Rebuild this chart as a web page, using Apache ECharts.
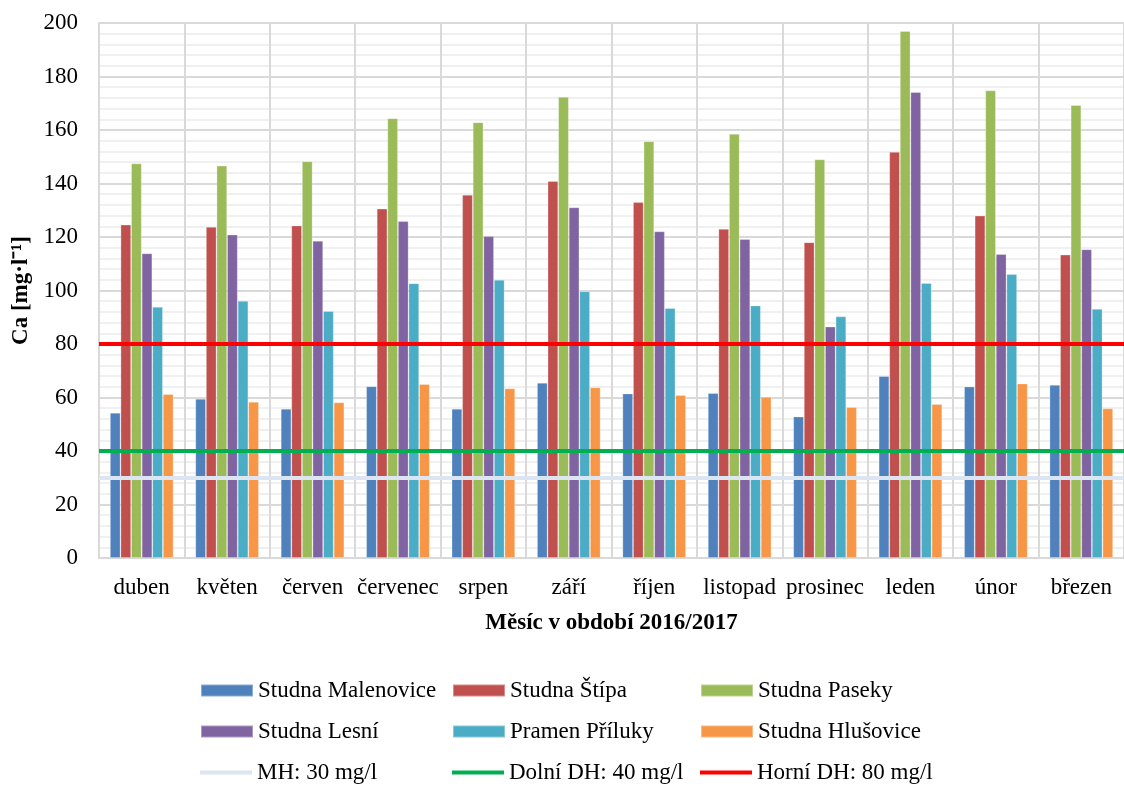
<!DOCTYPE html>
<html>
<head>
<meta charset="utf-8">
<script src="https://cdn.jsdelivr.net/npm/echarts@6/dist/echarts.min.js"></script>
<style>
  html, body { margin: 0; padding: 0; background: #fff; }
  #chart { width: 1124px; height: 787px; }
</style>
</head>
<body>
<div id="chart"></div>
<script>
// Months of the 2016/2017 monitoring period
const months = ['duben', 'květen', 'červen', 'červenec', 'srpen', 'září', 'říjen', 'listopad', 'prosinec', 'leden', 'únor', 'březen'];

// Calcium concentration [mg/l] per source
const malenovice = [54.3, 59.5, 55.8, 64.2, 55.8, 65.5, 61.5, 61.6, 52.9, 68.0, 64.1, 64.7];
const stipa      = [124.6, 123.8, 124.3, 130.6, 135.8, 140.9, 133.0, 123.0, 118.0, 151.8, 128.0, 113.4];
const paseky     = [147.5, 146.7, 148.3, 164.4, 162.9, 172.4, 155.8, 158.6, 149.0, 197.0, 174.8, 169.3];
const lesni      = [113.9, 120.9, 118.6, 125.9, 120.3, 131.1, 122.1, 119.2, 86.5, 174.2, 113.6, 115.4];
const priluky    = [93.9, 96.1, 92.3, 102.7, 104.0, 99.7, 93.4, 94.4, 90.3, 102.8, 106.1, 93.1];
const hlusovice  = [61.3, 58.4, 58.2, 65.0, 63.4, 63.8, 60.9, 60.2, 56.4, 57.5, 65.2, 55.9];

// Limit values [mg/l]
const limitMH = 30;
const limitDolni = 40;
const limitHorni = 80;

// Value axis ticks
const yTicks = { min: 0, max: 200, interval: 20 };

const FONT = "'Liberation Serif', 'Times New Roman', serif";
const FS = 23;

const barSeries = [
  ['Studna Malenovice', malenovice, '#4f81bd'],
  ['Studna Štípa', stipa, '#c0504d'],
  ['Studna Paseky', paseky, '#9bbb59'],
  ['Studna Lesní', lesni, '#8064a2'],
  ['Pramen Příluky', priluky, '#4bacc6'],
  ['Studna Hlušovice', hlusovice, '#f79646']
].map(([name, data, color]) => ({
  name, type: 'bar', data,
  barGap: '0%', barCategoryGap: '25.6%',
  itemStyle: { color, borderColor: 'rgba(255,255,255,0.35)', borderWidth: 0.8 },
  emphasis: { disabled: true },
  animation: false
}));

const limitSeries = [
  ['MH: 30 mg/l', limitMH, '#dce6f2'],
  ['Dolní DH: 40 mg/l', limitDolni, '#00b050'],
  ['Horní DH: 80 mg/l', limitHorni, '#ff0000']
].map(([name, value, color]) => ({
  name, type: 'line', data: [], symbol: 'none',
  lineStyle: { color, width: 4 },
  itemStyle: { color },
  z: 5,
  markLine: {
    silent: true, symbol: 'none', animation: false,
    label: { show: false },
    lineStyle: { color, width: 4, type: 'solid' },
    data: [{ yAxis: value }]
  },
  animation: false
}));

// Legend laid out as a 3 x 3 table: one legend box per cell
const colX = [200, 452, 700];
const rowY = [690, 731, 772];
const legendRows = [
  ['Studna Malenovice', 'Studna Štípa', 'Studna Paseky'],
  ['Studna Lesní', 'Pramen Příluky', 'Studna Hlušovice'],
  ['MH: 30 mg/l', 'Dolní DH: 40 mg/l', 'Horní DH: 80 mg/l']
];
const legends = [];
legendRows.forEach((row, r) => row.forEach((name, c) => {
  const isLine = r === 2;
  const h = isLine ? 4 : 12;
  legends.push({
    left: colX[c], top: rowY[r] - 11, padding: 0,
    itemWidth: 52, itemHeight: h, itemGap: 5,
    icon: 'rect', selectedMode: false,
    textStyle: { fontFamily: FONT, fontSize: FS, color: '#000', padding: [0, 0, 0, 0] },
    data: [name]
  });
}));

const chart = echarts.init(document.getElementById('chart'), null, { renderer: 'canvas' });
chart.setOption({
  animation: false,
  backgroundColor: '#fff',
  grid: { left: 99, top: 23, width: 1032, height: 535, containLabel: false },
  xAxis: {
    type: 'category', data: months,
    name: 'Měsíc v období 2016/2017', nameLocation: 'middle', nameGap: 54,
    nameTextStyle: { fontFamily: FONT, fontSize: FS, fontWeight: 'bold', color: '#000' },
    axisLine: { lineStyle: { color: '#d9d9d9', width: 2 } },
    axisTick: { show: false },
    axisLabel: { fontFamily: FONT, fontSize: FS, color: '#000', margin: 18, interval: 0 },
    splitLine: { show: true, interval: 0, lineStyle: { color: '#d9d9d9', width: 2 } }
  },
  yAxis: {
    type: 'value', min: yTicks.min, max: yTicks.max, interval: yTicks.interval,
    name: 'Ca [mg·l⁻¹]', nameLocation: 'middle', nameGap: 64,
    nameTextStyle: { fontFamily: FONT, fontSize: FS, fontWeight: 'bold', color: '#000' },
    axisLine: { show: true, lineStyle: { color: '#d9d9d9', width: 2 } },
    axisTick: { show: false },
    axisLabel: { fontFamily: FONT, fontSize: FS, color: '#000', margin: 21 },
    splitLine: { lineStyle: { color: '#d9d9d9', width: 2 } },
    minorTick: { show: false, splitNumber: 5 },
    minorSplitLine: { show: true, lineStyle: { color: '#f0f0f0', width: 2 } }
  },
  legend: legends,
  series: [...barSeries, ...limitSeries]
});
</script>
</body>
</html>
